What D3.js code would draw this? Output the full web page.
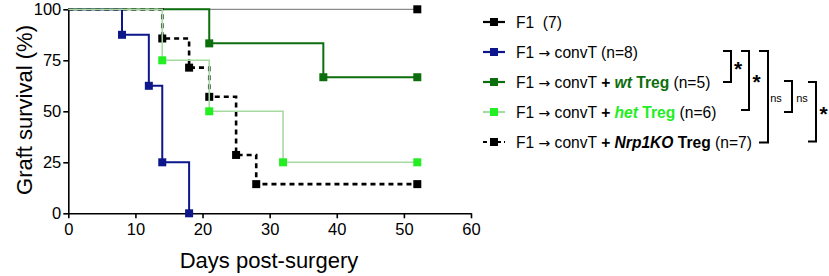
<!DOCTYPE html>
<html>
<head>
<meta charset="utf-8">
<script src="https://cdn.jsdelivr.net/npm/d3@7"></script>
<style>
  body { margin: 0; background: #fff; }
  svg { font-family: "Liberation Sans", Arial, sans-serif; }
</style>
</head>
<body>
<div id="chart"></div>
<script>
// survival data (day, % surviving)
const f1Days = [0, 52];
const f1Surv = [100, 100];
const convTDays = [0, 8, 12, 14, 18];
const convTSurv = [100, 87.5, 62.5, 25, 0];
const wtDays = [0, 21, 38, 52];
const wtSurv = [100, 83.3, 66.7, 66.7];
const hetDays = [0, 14, 21, 32, 52];
const hetSurv = [100, 75, 50, 25, 25];
const nrpDays = [0, 14, 18, 21, 25, 28, 52];
const nrpSurv = [100, 85.7, 71.4, 57.1, 28.6, 14.3, 14.3];

const xTicks = [0, 10, 20, 30, 40, 50, 60];
const yTicks = [0, 25, 50, 75, 100];

var width = 829, height = 276;

var svg = d3.select("#chart").append("svg")
    .attr("width", width)
    .attr("height", height);

var x = d3.scaleLinear().domain([0, 60]).range([68.3, 471]);
var y = d3.scaleLinear().domain([0, 100]).range([213.3, 9.3]);

var series = [
    { name: "f1", days: f1Days, surv: f1Surv, line: "#8a8a8a", lw: 1.2, mark: "#000", dash: null },
    { name: "wt", days: wtDays, surv: wtSurv, line: "#0c6e0c", lw: 2, mark: "#0c6e0c", dash: null },
    { name: "convT", days: convTDays, surv: convTSurv, line: "#0d168a", lw: 2, mark: "#0d168a", dash: null },
    { name: "nrp", days: nrpDays, surv: nrpSurv, line: "#000", lw: 2.6, mark: "#000", dash: "5,4" },
    { name: "het", days: hetDays, surv: hetSurv, line: "#a6daa2", lw: 1.6, mark: "#22ee22", dash: null }
];

var line = d3.line()
    .x(d => x(d[0]))
    .y(d => y(d[1]))
    .curve(d3.curveStepAfter);

// axes
var xAxis = svg.append("g")
    .attr("transform", "translate(0," + y(0) + ")")
    .call(d3.axisBottom(x).tickValues(xTicks).tickSize(5).tickSizeOuter(0).tickPadding(5));
var yAxis = svg.append("g")
    .attr("transform", "translate(" + x(0) + ",0)")
    .call(d3.axisLeft(y).tickValues(yTicks).tickSize(5).tickSizeOuter(0).tickPadding(2));

[xAxis, yAxis].forEach(function(g) {
    g.select(".domain").attr("stroke", "#000").attr("stroke-width", 1.6);
    g.selectAll(".tick line").attr("stroke", "#000").attr("stroke-width", 1.6);
    g.selectAll(".tick text").attr("fill", "#000").style("font-size", "16.5px")
        .style("font-family", "'Liberation Sans', Arial, sans-serif");
});

svg.append("text")
    .attr("x", 269).attr("y", 268)
    .attr("text-anchor", "middle")
    .style("font-size", "22px")
    .text("Days post-surgery");

svg.append("text")
    .attr("transform", "translate(32,110) rotate(-90)")
    .attr("text-anchor", "middle")
    .style("font-size", "22px")
    .text("Graft survival (%)");

// curves
series.forEach(function(s) {
    var pts = s.days.map((d, i) => [d, s.surv[i]]);
    var g = svg.append("g");
    g.append("path")
        .attr("d", line(pts))
        .attr("fill", "none")
        .attr("stroke", s.line)
        .attr("stroke-width", s.lw)
        .attr("stroke-dasharray", s.dash);
    g.selectAll("rect").data(pts.slice(1)).enter().append("rect")
        .attr("x", d => x(d[0]) - 4).attr("y", d => y(d[1]) - 4)
        .attr("width", 8).attr("height", 8)
        .attr("fill", s.mark);
});

// legend
var legendRows = [
    { y: 22, line: "#000", mark: "#000", dash: null, parts: [["F1  (7)", "normal", "normal", "#000"]] },
    { y: 52, line: "#0d168a", mark: "#0d168a", dash: null, parts: [["F1 ", "normal", "normal", "#000"], ["\u2192", "arrow"], [" convT (n=8)", "normal", "normal", "#000"]] },
    { y: 82, line: "#0c6e0c", mark: "#0c6e0c", dash: null, parts: [
        ["F1 ", "normal", "normal", "#000"], ["\u2192", "arrow"], [" convT ", "normal", "normal", "#000"], ["+ ", "bold", "normal", "#000"],
        ["wt", "bold", "italic", "#0c6e0c"], [" Treg", "bold", "normal", "#0c6e0c"], [" (n=5)", "normal", "normal", "#000"]] },
    { y: 112, line: "#a6daa2", mark: "#22ee22", dash: null, parts: [
        ["F1 ", "normal", "normal", "#000"], ["\u2192", "arrow"], [" convT ", "normal", "normal", "#000"], ["+ ", "bold", "normal", "#000"],
        ["het", "bold", "italic", "#22ee22"], [" Treg", "bold", "normal", "#22ee22"], [" (n=6)", "normal", "normal", "#000"]] },
    { y: 142, line: "#000", mark: "#000", dash: "4,3", parts: [
        ["F1 ", "normal", "normal", "#000"], ["\u2192", "arrow"], [" convT ", "normal", "normal", "#000"], ["+ ", "bold", "normal", "#000"],
        ["Nrp1KO", "bold", "italic", "#000"], [" Treg", "bold", "normal", "#000"], [" (n=7)", "normal", "normal", "#000"]] }
];

var legend = svg.append("g");
legendRows.forEach(function(r) {
    legend.append("line")
        .attr("x1", 483).attr("x2", 505).attr("y1", r.y).attr("y2", r.y)
        .attr("stroke", r.line).attr("stroke-width", 2.2)
        .attr("stroke-dasharray", r.dash);
    legend.append("rect")
        .attr("x", 490).attr("y", r.y - 4).attr("width", 8).attr("height", 8)
        .attr("fill", r.mark);
    var t = legend.append("text")
        .attr("x", 516).attr("y", r.y + 5.5)
        .style("font-size", "15.6px")
        .attr("xml:space", "preserve");
    r.parts.forEach(function(p) {
        if (p[1] === "arrow") {
            t.append("tspan")
                .style("font-family", "'DejaVu Sans', sans-serif")
                .style("font-size", "14px")
                .attr("fill", "#000")
                .text(p[0]);
            return;
        }
        t.append("tspan")
            .style("font-weight", p[1])
            .style("font-style", p[2])
            .attr("fill", p[3])
            .text(p[0]);
    });
});

// significance brackets
var brackets = [
    { x: 731, top: 51, bottom: 82, left: 723, label: "*", lx: 738, ly: 76 },
    { x: 749, top: 51, bottom: 110, left: 741, label: "*", lx: 756.5, ly: 89 },
    { x: 768, top: 51, bottom: 142.5, left: 759, label: "ns", lx: 776, ly: 102 },
    { x: 792, top: 81, bottom: 112, left: 784, label: "ns", lx: 802, ly: 102 },
    { x: 816, top: 82, bottom: 141.5, left: 808, label: "*", lx: 823.5, ly: 121 }
];
brackets.forEach(function(b) {
    legend.append("path")
        .attr("d", "M" + b.left + "," + b.top + "H" + b.x + "V" + b.bottom + "H" + b.left)
        .attr("fill", "none").attr("stroke", "#000").attr("stroke-width", 2);
    legend.append("text")
        .attr("x", b.lx).attr("y", b.ly)
        .attr("text-anchor", "middle")
        .style("font-size", b.label === "ns" ? "11px" : "21px")
        .style("font-weight", b.label === "ns" ? "normal" : "bold")
        .text(b.label);
});
</script>
</body>
</html>
